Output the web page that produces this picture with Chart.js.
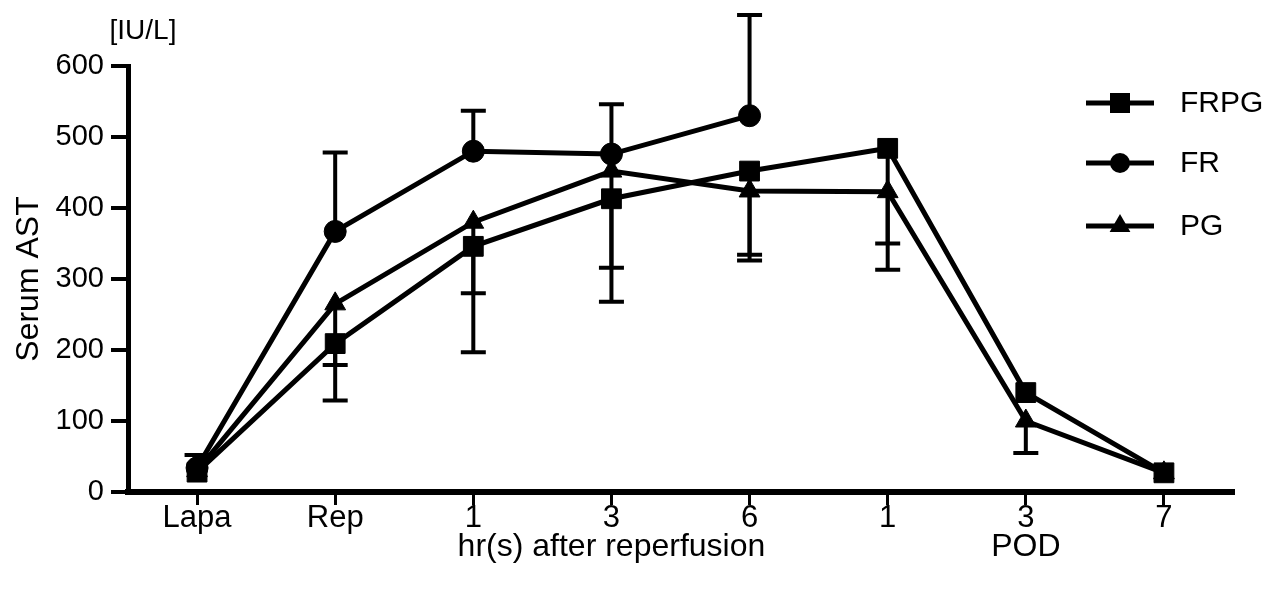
<!DOCTYPE html>
<html>
<head>
<meta charset="utf-8">
<script src="https://cdn.jsdelivr.net/npm/chart.js@4/dist/chart.umd.min.js"></script>
<style>
  html, body { margin: 0; padding: 0; background: #fff; }
  canvas { display: block; }
</style>
</head>
<body>
<canvas id="c" width="1273" height="596"></canvas>
<script>
// ---- data ----
const categories = ['Lapa', 'Rep', '1', '3', '6', '1', '3', '7'];
const frpgMean = [28, 209, 346, 413, 452, 484, 140, 27];
const frpgSD   = [0, 80, 149, 145, 126, 171, 0, 0];      // drawn downward
const frMean   = [34, 367, 480, 476, 530, null, null, null];
const frSD     = [18, 111, 57, 70, 142, null, null, null]; // drawn upward
const pgMean   = [30, 265, 380, 452, 424, 423, 100, 27];
const pgSD     = [0, 86, 100, 136, 90, 73, 45, 0];       // drawn downward
const yTicks   = [0, 100, 200, 300, 400, 500, 600];

const FONT = "'Liberation Sans', Arial, Helvetica, sans-serif";
const INK = '#000';

const errorBars = {
  id: 'errorBars',
  afterDatasetsDraw(chart) {
    const ctx = chart.ctx;
    const ys = chart.scales.y;
    chart.data.datasets.forEach((ds, di) => {
      const meta = chart.getDatasetMeta(di);
      const sd = ds.sd, dir = ds.errDir;
      meta.data.forEach((pt, i) => {
        const v = ds.data[i];
        if (v == null || !sd || !sd[i]) return;
        const y0 = ys.getPixelForValue(v);
        const y1 = ys.getPixelForValue(v + dir * sd[i]);
        ctx.save();
        ctx.strokeStyle = INK;
        ctx.lineWidth = 4;
        ctx.beginPath();
        ctx.moveTo(pt.x, y0);
        ctx.lineTo(pt.x, y1);
        ctx.moveTo(pt.x - 12.5, y1);
        ctx.lineTo(pt.x + 12.5, y1);
        ctx.stroke();
        ctx.restore();
      });
    });
  }
};

const annotations = {
  id: 'annotations',
  afterDraw(chart) {
    const ctx = chart.ctx;
    const xs = chart.scales.x;
    ctx.save();
    ctx.fillStyle = INK;
    ctx.textAlign = 'center';
    ctx.textBaseline = 'middle';
    ctx.font = '32px ' + FONT;
    ctx.fillText('hr(s) after reperfusion', xs.getPixelForValue(3), 547);
    ctx.fillText('POD', xs.getPixelForValue(6), 547);
    ctx.font = '28px ' + FONT;
    ctx.fillText('[IU/L]', 143, 31);

    // legend
    const items = [
      { label: 'FRPG', style: 'rect', y: 103 },
      { label: 'FR', style: 'circle', y: 163 },
      { label: 'PG', style: 'triangle', y: 226 }
    ];
    items.forEach(it => {
      ctx.strokeStyle = INK;
      ctx.lineWidth = 5;
      ctx.beginPath();
      ctx.moveTo(1086, it.y);
      ctx.lineTo(1154, it.y);
      ctx.stroke();
      ctx.beginPath();
      const cx = 1120, cy = it.y;
      if (it.style === 'rect') {
        ctx.rect(cx - 10, cy - 10, 20, 20);
      } else if (it.style === 'circle') {
        ctx.arc(cx, cy, 10, 0, Math.PI * 2);
      } else {
        ctx.moveTo(cx, cy - 12);
        ctx.lineTo(cx + 10.4, cy + 6);
        ctx.lineTo(cx - 10.4, cy + 6);
        ctx.closePath();
      }
      ctx.fill();
      ctx.font = '30px ' + FONT;
      ctx.textAlign = 'left';
      ctx.fillText(it.label, 1180, it.y + 1);
    });
    ctx.restore();
  }
};

function ds(label, data, sd, dir, style, radius) {
  return {
    label, data, sd, errDir: dir,
    borderColor: INK, backgroundColor: INK,
    borderWidth: 5,
    pointStyle: style, pointRadius: radius, pointHoverRadius: radius,
    pointBackgroundColor: INK, pointBorderColor: INK, pointBorderWidth: 1,
    tension: 0, spanGaps: false, clip: false
  };
}

new Chart(document.getElementById('c'), {
  type: 'line',
  data: {
    labels: categories,
    datasets: [
      ds('FRPG', frpgMean, frpgSD, -1, 'rect', 14),
      ds('FR', frMean, frSD, 1, 'circle', 11),
      ds('PG', pgMean, pgSD, -1, 'triangle', 12)
    ]
  },
  options: {
    responsive: false,
    animation: false,
    devicePixelRatio: 1,
    layout: { padding: { top: 66, right: 40, left: 0, bottom: 0 } },
    plugins: { legend: { display: false }, tooltip: { enabled: false }, title: { display: false } },
    scales: {
      x: {
        type: 'category',
        offset: true,
        afterFit: s => { s.height = 104; },
        grid: { display: true, drawOnChartArea: false, drawTicks: true, tickLength: 13, lineWidth: 3, color: INK, offset: false },
        border: { display: true, width: 6, color: INK },
        ticks: { color: INK, font: { family: FONT, size: 31, lineHeight: 1 }, padding: -2, maxRotation: 0, autoSkip: false }
      },
      y: {
        min: 0, max: 600,
        afterFit: s => { s.width = 128; },
        afterBuildTicks: s => { s.ticks = yTicks.map(v => ({ value: v })); },
        grid: { display: true, drawOnChartArea: false, drawTicks: true, tickLength: 17, lineWidth: 4, color: INK },
        border: { display: true, width: 5, color: INK },
        ticks: { color: INK, font: { family: FONT, size: 29 }, padding: 7 },
        title: { display: true, text: 'Serum AST', color: INK, font: { family: FONT, size: 32 }, padding: { top: 10, bottom: 0 } }
      }
    }
  },
  plugins: [errorBars, annotations]
});
</script>
</body>
</html>
